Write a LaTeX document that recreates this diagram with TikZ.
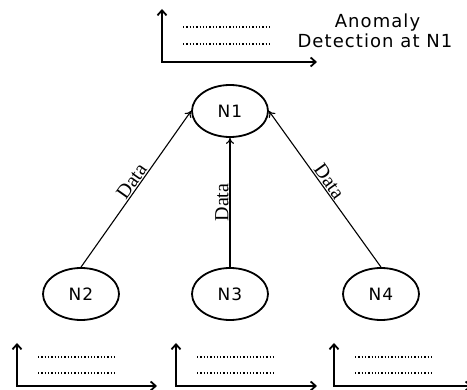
\documentclass[tikz,border=0pt]{standalone}
\usepackage{fontspec}
\setmainfont{DejaVu Sans}
\newfontfamily\spacedfont[LetterSpace=6]{DejaVu Sans}
\newfontfamily\datafont{Liberation Serif}
\usetikzlibrary{shapes.geometric,arrows.meta}

\begin{document}
\begin{tikzpicture}
[
    x=1pt, y=-1pt,
    station/.style={ellipse, draw, line width=1.8pt, minimum width=76pt, minimum height=52pt, font=\spacedfont\fontsize{17}{19}\selectfont},
    flow/.style={-{To[length=6pt,width=8pt]}, line width=1.1pt},
    datalabel/.style={sloped, above, font=\datafont\fontsize{20}{22}\selectfont, inner sep=1pt},
    axisline/.style={{Straight Barb[length=5pt,width=9pt]}-{Straight Barb[length=5pt,width=9pt]}, line width=1.8pt},
    dotline/.style={dotted, line width=1.3pt},
]
\useasboundingbox (0,0) rectangle (467,390);

% nodes
\node [station] (n1) at (230,111) {N1};
\node [station] (n2) at (81,294) {N2};
\node [station] (n3) at (230,294) {N3};
\node [station] (n4) at (381,294) {N4};

% data flows
\draw [flow] (n2.north) -- (n1.west) node [datalabel, pos=0.52] {Data};
\draw [flow] (n3.north) -- (n1.south) node [datalabel, pos=0.5] {Data};
\draw [flow] (n4.north) -- (n1.east) node [datalabel, pos=0.52] {Data};

% chart at N1
\coordinate (top y) at (162,9);
\coordinate (top o) at (162,62);
\coordinate (top x) at (317,62);
\draw [axisline] (top y) -- (top o) -- (top x);
\draw [dotline] (183,27) -- (270,27);
\draw [dotline] (183,44) -- (270,44);
\node [font=\spacedfont\fontsize{18}{20}\selectfont, align=center, inner sep=0pt] (anomaly) at (375,31)
    {\hspace*{5pt}Anomaly\\Detection at N1};

% charts below N2, N3, N4
\foreach \nm/\xo/\xe in {a/17/157, b/176/317, c/334/472}
{
    \coordinate (\nm y) at (\xo,343);
    \coordinate (\nm o) at (\xo,386);
    \coordinate (\nm x) at (\xe,386);
    \draw [axisline] (\nm y) -- (\nm o) -- (\nm x);
    \draw [dotline] (\xo+21,357) -- (\xo+100,357);
    \draw [dotline] (\xo+21,373) -- (\xo+100,373);
}
\end{tikzpicture}
\end{document}
